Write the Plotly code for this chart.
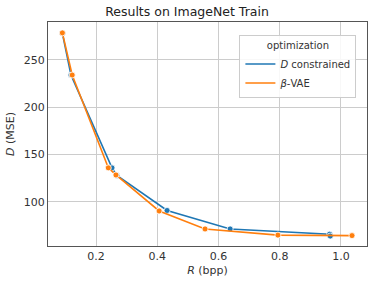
import plotly.graph_objects as go

# Data
d_constrained_R = [0.090, 0.118, 0.252, 0.268, 0.432, 0.638, 0.963, 0.965]
d_constrained_D = [278.0, 234.0, 136.0, 128.0, 91.0, 71.5, 66.0, 64.0]
beta_vae_R = [0.090, 0.122, 0.240, 0.265, 0.406, 0.556, 0.794, 1.036]
beta_vae_D = [278.5, 234.0, 136.0, 128.5, 90.5, 71.5, 65.0, 64.5]
series_names = ["<i>D</i> constrained", "<i>β</i>-VAE"]
colors = ["#1f77b4", "#ff7f0e"]
x_ticks = [0.2, 0.4, 0.6, 0.8, 1.0]
y_ticks = [100, 150, 200, 250]

fig = go.Figure()
for xs, ys, name, c in [(d_constrained_R, d_constrained_D, series_names[0], colors[0]),
                        (beta_vae_R, beta_vae_D, series_names[1], colors[1])]:
    fig.add_trace(go.Scatter(
        x=xs, y=ys, name=name, mode="lines+markers", showlegend=False,
        line=dict(color=c, width=1.6),
        marker=dict(color=c, size=6, line=dict(color="white", width=0.8)),
    ))
# legend entries (lines only, as in the reference)
for name, c in zip(series_names, colors):
    fig.add_trace(go.Scatter(
        x=[None], y=[None], name=name, mode="lines",
        line=dict(color=c, width=1.6), showlegend=True,
    ))

font_family = "DejaVu Sans"
axis_common = dict(
    showgrid=True, gridcolor="#cccccc", gridwidth=1,
    showline=True, linecolor="#555555", linewidth=1, mirror=True,
    ticks="", zeroline=False, automargin=False,
    tickfont=dict(family=font_family, size=11, color="#333333"),
)
fig.update_layout(
    width=374, height=286,
    margin=dict(l=48, r=7, t=22, b=40),
    paper_bgcolor="white", plot_bgcolor="white",
    title=dict(text="Results on ImageNet Train", x=0.5, xanchor="center",
               y=0.96, yanchor="middle",
               font=dict(family=font_family, size=12.5, color="#222222")),
    xaxis=dict(range=[0.043, 1.085], tickvals=x_ticks, tickformat=".1f",
               title=dict(text="<i>R</i> (bpp)", standoff=4,
                          font=dict(family=font_family, size=11, color="#333333")),
               **axis_common),
    yaxis=dict(range=[53.5, 290], tickvals=y_ticks,
               title=dict(text="<i>D</i> (MSE)", standoff=6,
                          font=dict(family=font_family, size=11, color="#333333")),
               **axis_common),
    legend=dict(
        x=0.60, y=0.94, xanchor="left", yanchor="top",
        bgcolor="rgba(255,255,255,0.85)", bordercolor="#cccccc", borderwidth=1,
        font=dict(family=font_family, size=10, color="#333333"),
        title=dict(text="optimization", side="top center",
                   font=dict(family=font_family, size=10, color="#333333")),
        tracegroupgap=0, itemwidth=30,
    ),
    showlegend=True,
)
fig.write_html("out.html", config={"displayModeBar": False},
               post_script="document.body.style.margin='0px';")
